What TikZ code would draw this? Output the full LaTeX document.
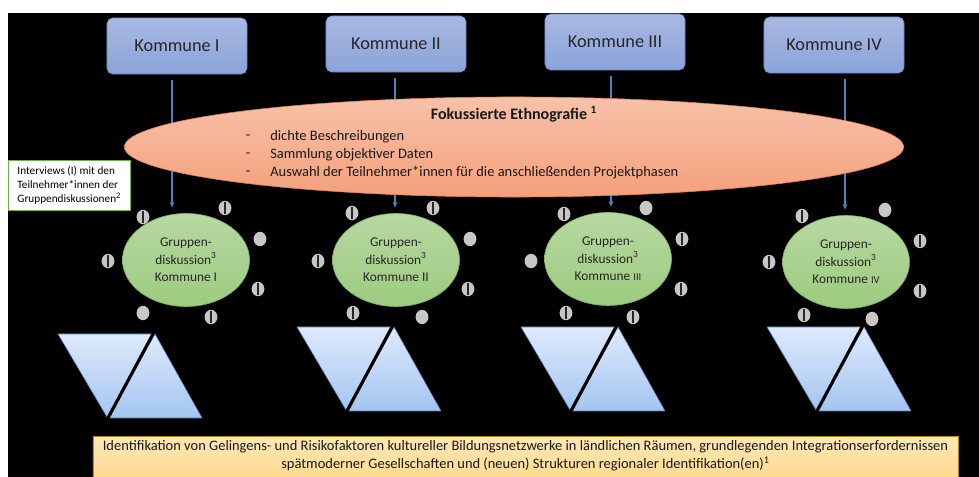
\documentclass[tikz,border=0pt]{standalone}
\usepackage{fontspec}
\setmainfont{Carlito}
\usetikzlibrary{shapes.geometric,arrows.meta,positioning,calc}

\definecolor{komTop}{HTML}{A9B9E2}
\definecolor{komBot}{HTML}{8AA3D9}
\definecolor{komRand}{HTML}{6A86C4}
\definecolor{ethTop}{HTML}{F7C2A8}
\definecolor{ethBot}{HTML}{F4A07C}
\definecolor{ethRand}{HTML}{E27E52}
\definecolor{grTop}{HTML}{B7D8A2}
\definecolor{grBot}{HTML}{9CCB7E}
\definecolor{grRand}{HTML}{7FAF5F}
\definecolor{pfeilblau}{HTML}{4F81BD}
\definecolor{triTop}{HTML}{DEEAFC}
\definecolor{triBot}{HTML}{A4C5F0}
\definecolor{triRand}{HTML}{5B80B2}
\definecolor{ergTop}{HTML}{FDE8B6}
\definecolor{ergBot}{HTML}{FFD47E}
\definecolor{ergRand}{HTML}{B8860B}
\definecolor{intRand}{HTML}{70AD47}

\begin{document}
\begin{tikzpicture}[x=0.025cm,y=-0.025cm,
    kommune/.style={draw=komRand, rounded corners=4pt, top color=komTop, bottom color=komBot,
      minimum width=3.5cm, minimum height=1.4cm, text=black!85, font=\fontsize{13}{15}\selectfont},
    gruppe/.style={ellipse, draw=grRand, top color=grTop, bottom color=grBot, inner sep=0pt,
      minimum width=3.175cm, minimum height=2.325cm, align=center, text=black!85,
      font=\fontsize{9.5}{12.5}\selectfont},
    tn/.style={ellipse, fill=black!22, minimum width=0.32cm, minimum height=0.36cm, inner sep=0pt},
    tnP/.style={tn},
    tnI/.style={tn, path picture={\draw[black!85, line width=1.5pt]
      ([yshift=-1.2pt]path picture bounding box.north) -- ([yshift=1.2pt]path picture bounding box.south);}},
    pfeil/.style={-{Stealth[length=4pt,width=3.5pt]}, draw=pfeilblau, line width=1pt},
    dreieck/.style={draw=triRand, top color=triTop, bottom color=triBot}
  ]
  \useasboundingbox (0,0) rectangle (979,477);
  \fill[black] (8,13) rectangle (979,477);

  % Kommunen
  \node[kommune] (k1) at (177,46) {Kommune I};
  \node[kommune] (k2) at (396,44) {Kommune II};
  \node[kommune] (k3) at (615,42) {Kommune III};
  \node[kommune] (k4) at (834,45) {Kommune IV};

  % Gruppendiskussionen
  \node[gruppe] (g1) at (186,260) {Gruppen-\\diskussion\textsuperscript{3}\\Kommune I};
  \node[gruppe] (g2) at (396,260) {Gruppen-\\diskussion\textsuperscript{3}\\Kommune II};
  \node[gruppe] (g3) at (608,259) {Gruppen-\\diskussion\textsuperscript{3}\\Kommune {\fontsize{7.5}{9}\selectfont III}};
  \node[gruppe] (g4) at (846,262) {Gruppen-\\diskussion\textsuperscript{3}\\Kommune {\fontsize{7.5}{9}\selectfont IV}};

  \foreach \i/\dx in {1/-5,2/-1,3/-4,4/11} {
    \coordinate (a\i) at ($(k\i.south)+(\dx,6)$);
    \draw[pfeil, shorten >=4pt] (a\i) -- (a\i |- g\i.north);
  }

  % Ethnografie
  \node[ellipse, draw=ethRand, top color=ethTop, bottom color=ethBot,
    minimum width=19.475cm, minimum height=2.5cm] (eth) at (514,147) {};
  \node[font=\fontsize{11.4}{13}\bfseries, text=black!90] (titel) at (514,114) {Fokussierte Ethnografie \textsuperscript{1}};
  \foreach \y/\txt in {137/dichte Beschreibungen, 155/Sammlung objektiver Daten,
      173/Auswahl der Teilnehmer*innen für die anschließenden Projektphasen} {
    \node[font=\fontsize{10.3}{12}\selectfont, text=black!90] at (248,\y) {-};
    \node[anchor=west, font=\fontsize{10.3}{12}\selectfont, text=black!90, inner sep=0pt] at (270,\y) {\txt};
  }

  % Interviews
  \node[draw=intRand, fill=white, align=left, anchor=north west, minimum width=3.05cm, minimum height=1.25cm,
    font=\fontsize{8}{10}\selectfont, inner sep=2pt] (int) at (8,160)
    {Interviews (I) mit den\\Teilnehmer*innen der\\Gruppendiskussionen\textsuperscript{2}};

  % Teilnehmende
  \foreach \g/\dx/\dy/\t in {
      1/-43/-43/I, 1/39/-52/I, 1/74/-21/P, 1/-78/1/I, 1/72/29/I, 1/-43/53/P, 1/25/57/I,
      2/-44/-47/I, 2/37/-52/I, 2/74/-21/P, 2/-78/1/I, 2/72/29/I, 2/-43/53/I, 2/26/57/P,
      3/-44/-45/I, 3/38/-51/P, 3/74/-20/I, 3/-77/2/P, 3/73/30/I, 3/-42/54/I, 3/25/58/I,
      4/-44/-46/I, 4/39/-52/P, 4/74/-21/I, 4/-77/0/I, 4/74/29/I, 4/-42/53/I, 4/26/57/P}
    \node[tn\t] at ($(g\g)+(\dx,\dy)$) {};

  % Dreiecke
  \foreach \x/\y in {58/334, 297/327, 521/327, 767/327} {
    \draw[dreieck] (\x,\y) -- (\x+94,\y) -- (\x+49,\y+83) -- cycle;
    \draw[dreieck] (\x+97,\y) -- (\x+144,\y+84) -- (\x+50,\y+84) -- cycle;
    \draw[black, line width=2.2pt] (\x+95.5,\y-1) -- (\x+49.5,\y+85);
  }

  % Ergebnis
  \node[draw=ergRand, top color=ergTop, bottom color=ergBot, anchor=north, minimum width=21.625cm,
    align=center, font=\fontsize{10.3}{12.8}\selectfont, text=black!90, text depth=16pt, inner ysep=3pt] (erg) at (525.5,436)
    {Identifikation von Gelingens- und Risikofaktoren kultureller Bildungsnetzwerke in ländlichen Räumen, grundlegenden Integrationserfordernissen\\
     spätmoderner Gesellschaften und (neuen) Strukturen regionaler Identifikation(en)\textsuperscript{1}};
\end{tikzpicture}
\end{document}
